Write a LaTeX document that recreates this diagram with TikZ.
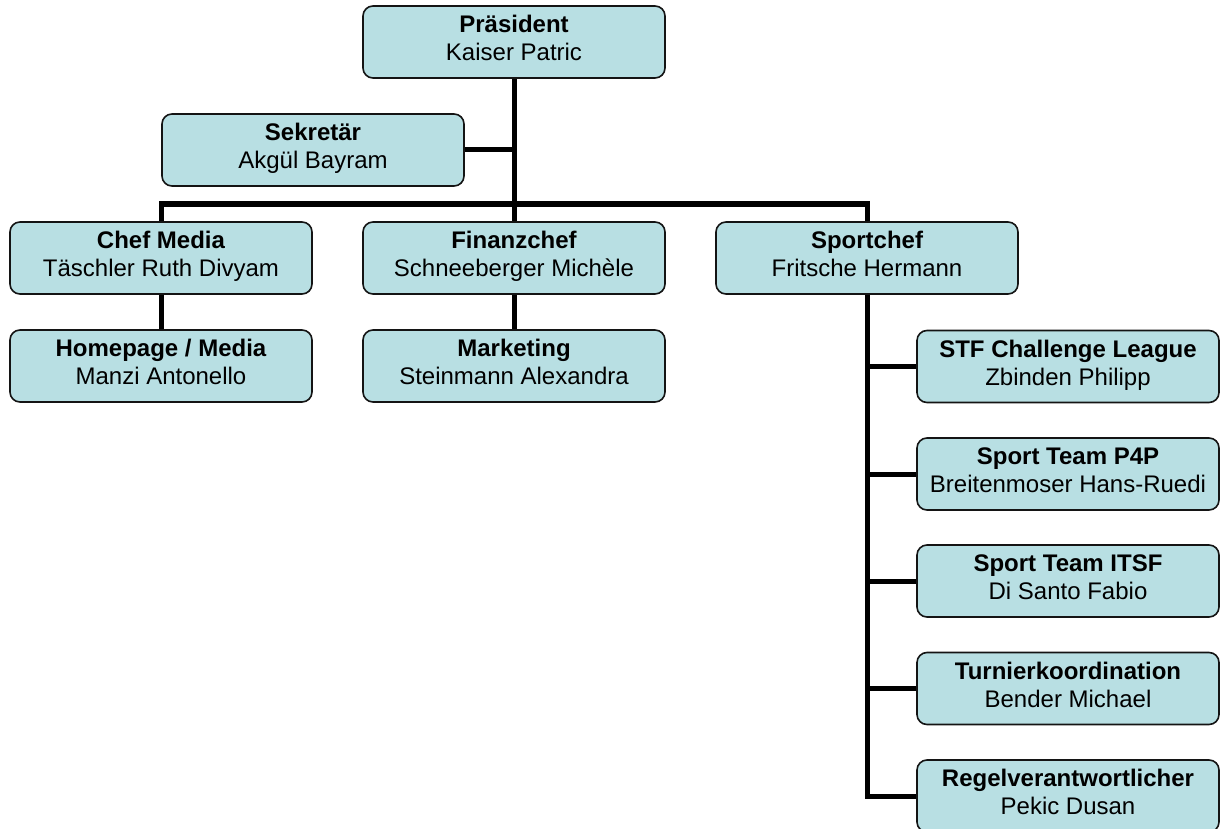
\documentclass[tikz,border=0pt]{standalone}
\usepackage{fontspec}
\setmainfont{Liberation Sans}
\usetikzlibrary{calc}
\definecolor{boxfill}{RGB}{184,223,227}
\definecolor{boxline}{RGB}{20,20,20}
\tikzset{
  obox/.style={draw=boxline, line width=1.6pt, fill=boxfill, rounded corners=10pt,
    minimum width=302pt, minimum height=72pt, inner sep=0pt},
  ttl/.style={anchor=base, inner sep=0pt, font=\bfseries\fontsize{24}{28}\selectfont},
  nm/.style={anchor=base, inner sep=0pt, font=\fontsize{24}{28}\selectfont},
  conn/.style={draw=black, line width=5pt, line join=miter}
}
\newcommand\orgbox[5]{%
  \node[obox] (#1) at (#2,#3) {};
  \node[ttl] (#1-t) at ($(#1.center)+(0,-9.5)$) {#4};
  \node[nm] (#1-n) at ($(#1.center)+(0,18.5)$) {#5};
}
\begin{document}
\begin{tikzpicture}[x=1pt,y=-1pt]
\useasboundingbox (0,0) rectangle (1220,829);
\clip (0,0) rectangle (1220,829);
% connectors first
\coordinate (bus) at (514,204);
\coordinate (presS) at (514,78);
\coordinate (finN) at (514,222);
\coordinate (cmN) at (161,222);
\coordinate (scN) at (867,222);
\draw[conn] (presS) -- (finN);
\draw[conn] (cmN) |- (bus) -| (scN);
% boxes
\orgbox{pres}{514}{42}{Präsident}{Kaiser Patric}
\orgbox{sek}{313}{150}{Sekretär}{Akgül Bayram}
\orgbox{cm}{161}{258}{Chef Media}{Täschler Ruth Divyam}
\orgbox{fin}{514}{258}{Finanzchef}{Schneeberger Michèle}
\orgbox{sc}{867}{258}{Sportchef}{Fritsche Hermann}
\orgbox{home}{161}{366}{Homepage / Media}{Manzi Antonello}
\orgbox{mkt}{514}{366}{Marketing}{Steinmann Alexandra}
\orgbox{stf}{1068}{366.5}{STF Challenge League}{Zbinden Philipp}
\orgbox{p4p}{1068}{474}{Sport Team P4P}{Breitenmoser Hans-Ruedi}
\orgbox{itsf}{1068}{581}{Sport Team ITSF}{Di Santo Fabio}
\orgbox{tur}{1068}{688.5}{Turnierkoordination}{Bender Michael}
\orgbox{regel}{1068}{796}{Regelverantwortlicher}{Pekic Dusan}
% remaining connectors
\draw[conn] (sek.east) -- (sek.east -| pres.south);
\draw[conn] (cm.south) -- (home.north);
\draw[conn] (fin.south) -- (mkt.north);
\draw[conn] (sc.south) |- (regel.west);
\draw[conn] (stf.west) -- (stf.west -| sc.south);
\draw[conn] (p4p.west) -- (p4p.west -| sc.south);
\draw[conn] (itsf.west) -- (itsf.west -| sc.south);
\draw[conn] (tur.west) -- (tur.west -| sc.south);
\end{tikzpicture}
\end{document}
